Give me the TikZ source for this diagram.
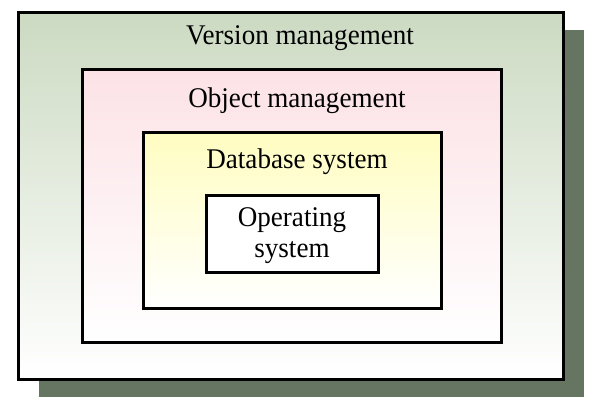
\documentclass[tikz,border=0pt]{standalone}
\usepackage{fontspec}
\setmainfont{Liberation Serif}[FakeStretch=0.95]
\usetikzlibrary{shadows}
\definecolor{vm-green}{HTML}{CCDAC2}
\definecolor{om-pink}{HTML}{FCE2E6}
\definecolor{db-yellow}{HTML}{FFFDC0}
\definecolor{shadow-green}{HTML}{667462}
\tikzset{
    layer-box/.style = {draw=black, line width=3pt, rectangle, inner sep=0pt},
    layer-title/.style = {font=\fontsize{28.5}{31.5}\selectfont, inner sep=0pt},
}

\begin{document}
\begin{tikzpicture}[x=1pt, y=-1pt]
\useasboundingbox (0,0) rectangle (603,415);
\node[layer-box, minimum width=545pt, minimum height=367pt,
      top color=vm-green, middle color=vm-green!80, bottom color=white,
      drop shadow={shadow xshift=21pt, shadow yshift=-18pt, fill=shadow-green, opacity=1}]
      (vm) at (290.5,195.5) {};
\node[layer-box, minimum width=419pt, minimum height=273pt,
      top color=om-pink, middle color=om-pink!80, bottom color=white]
      (om) at (291.5,205.5) {};
\node[layer-box, minimum width=298pt, minimum height=176pt,
      top color=db-yellow, middle color=db-yellow!80, bottom color=white]
      (db) at (292,220) {};
\node[layer-box, minimum width=172pt, minimum height=77pt, fill=white]
      (os) at (292,233.5) {};
\node[layer-title, anchor=base] (vm-title) at (300,45) {Version management};
\node[layer-title, anchor=base] (om-title) at (297,107) {Object management};
\node[layer-title, anchor=base] (db-title) at (297,168) {Database system};
\node[layer-title, align=center] (os-title) at ([yshift=-2pt]os.center) {Operating\\system};
\end{tikzpicture}
\end{document}
